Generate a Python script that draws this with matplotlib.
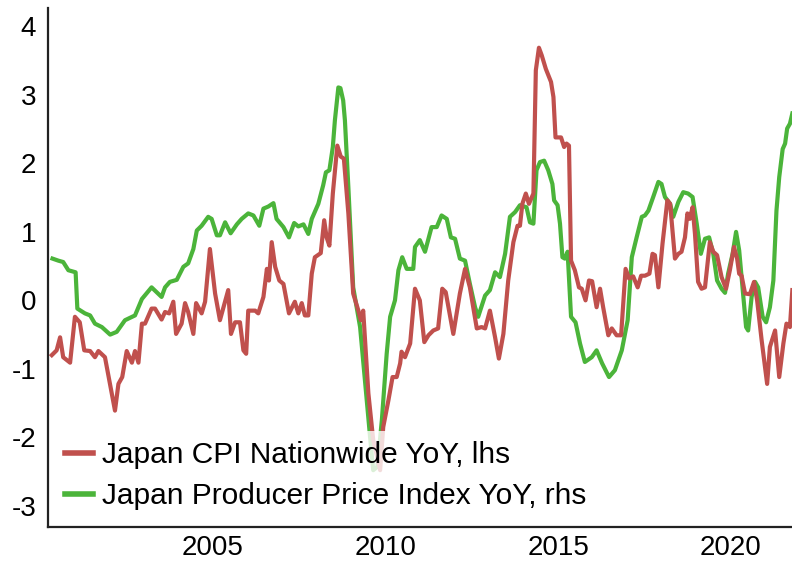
import matplotlib
matplotlib.use("Agg")
import matplotlib.pyplot as plt

plt.rcParams['font.family'] = ['Liberation Sans', 'DejaVu Sans']
plt.rcParams['axes.unicode_minus'] = False

# Japan CPI Nationwide YoY (lhs)
cpi_t = [2000.33, 2000.47, 2000.57, 2000.66, 2000.86, 2001.00, 2001.14, 2001.27, 2001.44, 2001.58,
         2001.68, 2001.87, 2002.16, 2002.26, 2002.37, 2002.50, 2002.65, 2002.74, 2002.84, 2002.94,
         2003.03, 2003.22, 2003.32, 2003.51, 2003.61, 2003.73, 2003.85, 2003.93, 2004.09, 2004.19,
         2004.28, 2004.43, 2004.51, 2004.67, 2004.77, 2004.91, 2005.06, 2005.20, 2005.44, 2005.52,
         2005.64, 2005.78, 2005.88, 2005.96, 2006.02, 2006.22, 2006.31, 2006.46, 2006.56, 2006.62,
         2006.70, 2006.80, 2006.92, 2007.04, 2007.20, 2007.37, 2007.47, 2007.57, 2007.66, 2007.76,
         2007.86, 2007.95, 2008.12, 2008.22, 2008.29, 2008.37, 2008.47, 2008.60, 2008.70, 2008.79,
         2008.92, 2009.06, 2009.21, 2009.28, 2009.35, 2009.50, 2009.64, 2009.84, 2009.93, 2010.08,
         2010.20, 2010.32, 2010.42, 2010.46, 2010.56, 2010.71, 2010.85, 2010.99, 2011.12, 2011.24,
         2011.38, 2011.52, 2011.64, 2011.74, 2011.96, 2012.15, 2012.30, 2012.44, 2012.64, 2012.78,
         2012.88, 2013.02, 2013.17, 2013.28, 2013.41, 2013.55, 2013.70, 2013.82, 2013.89, 2013.96,
         2014.06, 2014.15, 2014.28, 2014.35, 2014.44, 2014.52, 2014.64, 2014.79, 2014.86, 2014.92,
         2015.08, 2015.17, 2015.24, 2015.31, 2015.37, 2015.48, 2015.60, 2015.68, 2015.79, 2015.89,
         2015.98, 2016.11, 2016.21, 2016.30, 2016.45, 2016.55, 2016.69, 2016.82, 2016.95, 2017.05,
         2017.17, 2017.30, 2017.40, 2017.51, 2017.64, 2017.73, 2017.80, 2017.90, 2018.02, 2018.16,
         2018.24, 2018.38, 2018.48, 2018.57, 2018.67, 2018.74, 2018.81, 2018.89, 2018.96, 2019.05,
         2019.15, 2019.25, 2019.39, 2019.49, 2019.60, 2019.73, 2019.86, 2019.97, 2020.09, 2020.18,
         2020.24, 2020.31, 2020.41, 2020.55, 2020.67, 2020.76, 2020.89, 2021.05, 2021.13, 2021.28,
         2021.40, 2021.52, 2021.61, 2021.71, 2021.78]
cpi_v = [-0.80, -0.73, -0.54, -0.83, -0.91, -0.24, -0.32, -0.73, -0.74, -0.83,
         -0.74, -0.83, -1.61, -1.22, -1.12, -0.74, -0.91, -0.74, -0.91, -0.34,
         -0.34, -0.12, -0.12, -0.28, -0.17, -0.19, -0.02, -0.49, -0.34, -0.04,
         -0.17, -0.49, -0.04, -0.19, -0.02, 0.75, 0.10, -0.29, 0.15, -0.49,
         -0.32, -0.32, -0.73, -0.78, -0.15, -0.15, -0.19, 0.05, 0.46, 0.29,
         0.85, 0.49, 0.29, 0.24, -0.19, -0.02, -0.19, -0.04, -0.22, -0.22,
         0.39, 0.63, 0.69, 1.17, 0.92, 0.80, 1.56, 2.26, 2.10, 2.07,
         1.27, 0.10, -0.15, -0.29, -0.15, -1.36, -2.04, -2.48, -1.85, -1.46,
         -1.12, -1.12, -0.92, -0.75, -0.83, -0.63, 0.17, 0.00, -0.61, -0.51,
         -0.44, -0.41, 0.17, 0.12, -0.49, 0.10, 0.46, 0.19, -0.41, -0.39,
         -0.41, -0.15, -0.54, -0.85, -0.49, 0.29, 0.85, 1.09, 1.09, 1.41,
         1.56, 1.41, 1.56, 3.36, 3.69, 3.58, 3.38, 3.19, 2.97, 2.38,
         2.38, 2.24, 2.29, 2.26, 0.58, 0.44, 0.19, 0.17, 0.00, 0.29,
         0.28, -0.10, 0.17, -0.10, -0.51, -0.41, -0.51, -0.51, 0.46, 0.32,
         0.35, 0.19, 0.36, 0.36, 0.39, 0.68, 0.66, 0.19, 0.83, 1.46,
         1.41, 0.61, 0.68, 0.71, 0.92, 1.27, 1.19, 1.36, 0.97, 0.27,
         0.17, 0.19, 0.85, 0.71, 0.66, 0.34, 0.17, 0.44, 0.78, 0.61,
         0.39, 0.36, 0.10, 0.09, 0.27, 0.00, -0.58, -1.22, -0.68, -0.44,
         -1.12, -0.63, -0.34, -0.39, 0.15]

# Japan Producer Price Index YoY (rhs, drawn on the shared scale)
ppi_t = [2000.35, 2000.52, 2000.66, 2000.81, 2001.02, 2001.07, 2001.29, 2001.44, 2001.58, 2001.78,
         2002.02, 2002.21, 2002.45, 2002.74, 2002.94, 2003.22, 2003.51, 2003.61, 2003.75, 2003.95,
         2004.14, 2004.28, 2004.43, 2004.53, 2004.67, 2004.86, 2004.96, 2005.11, 2005.20, 2005.35,
         2005.51, 2005.69, 2005.83, 2006.02, 2006.17, 2006.34, 2006.46, 2006.60, 2006.75, 2006.84,
         2007.04, 2007.20, 2007.35, 2007.47, 2007.62, 2007.76, 2007.86, 2008.05, 2008.19, 2008.27,
         2008.37, 2008.47, 2008.53, 2008.63, 2008.69, 2008.77, 2008.82, 2008.92, 2009.06, 2009.26,
         2009.40, 2009.55, 2009.64, 2009.76, 2009.89, 2010.03, 2010.13, 2010.27, 2010.37, 2010.48,
         2010.61, 2010.80, 2010.85, 2010.99, 2011.14, 2011.33, 2011.48, 2011.62, 2011.77, 2011.89,
         2012.01, 2012.15, 2012.30, 2012.44, 2012.59, 2012.68, 2012.88, 2013.02, 2013.17, 2013.31,
         2013.46, 2013.60, 2013.75, 2013.89, 2014.08, 2014.18, 2014.28, 2014.37, 2014.47, 2014.59,
         2014.71, 2014.83, 2014.88, 2014.98, 2015.05, 2015.12, 2015.19, 2015.27, 2015.37, 2015.50,
         2015.63, 2015.77, 2015.97, 2016.11, 2016.27, 2016.47, 2016.64, 2016.84, 2017.01, 2017.13,
         2017.27, 2017.42, 2017.51, 2017.61, 2017.75, 2017.90, 2017.99, 2018.09, 2018.24, 2018.33,
         2018.48, 2018.62, 2018.76, 2018.89, 2019.01, 2019.13, 2019.25, 2019.37, 2019.49, 2019.60,
         2019.73, 2019.83, 2019.92, 2020.05, 2020.15, 2020.24, 2020.36, 2020.44, 2020.50, 2020.60,
         2020.70, 2020.79, 2020.92, 2021.02, 2021.13, 2021.23, 2021.32, 2021.40, 2021.50, 2021.57,
         2021.63, 2021.71, 2021.78]
ppi_v = [0.61, 0.58, 0.56, 0.44, 0.41, -0.12, -0.19, -0.22, -0.34, -0.39,
         -0.50, -0.46, -0.29, -0.22, 0.02, 0.19, 0.05, 0.19, 0.27, 0.30,
         0.49, 0.54, 0.75, 1.02, 1.09, 1.22, 1.19, 0.95, 0.95, 1.14,
         0.98, 1.11, 1.19, 1.27, 1.24, 1.09, 1.34, 1.37, 1.42, 1.19,
         1.07, 0.92, 1.13, 1.08, 1.11, 0.97, 1.19, 1.41, 1.68, 1.87,
         1.90, 2.24, 2.63, 3.11, 3.10, 2.92, 2.63, 1.65, 0.19, -0.39,
         -1.17, -2.00, -2.48, -2.43, -1.75, -0.78, -0.24, 0.00, 0.44, 0.63,
         0.46, 0.46, 0.78, 0.88, 0.71, 1.07, 1.07, 1.24, 1.19, 0.92,
         0.90, 0.61, 0.58, 0.24, -0.10, -0.24, 0.07, 0.15, 0.41, 0.34,
         0.68, 1.22, 1.29, 1.39, 1.36, 1.14, 1.12, 1.90, 2.02, 2.04,
         1.90, 1.70, 1.46, 1.39, 1.12, 0.63, 0.61, 0.71, -0.24, -0.32,
         -0.63, -0.90, -0.83, -0.73, -0.92, -1.12, -1.02, -0.73, -0.29, 0.63,
         0.92, 1.22, 1.24, 1.31, 1.51, 1.73, 1.70, 1.51, 1.41, 1.22,
         1.44, 1.58, 1.56, 1.51, 1.12, 0.68, 0.90, 0.92, 0.68, 0.29,
         0.17, 0.11, 0.39, 0.68, 1.00, 0.73, 0.05, -0.39, -0.44, 0.05,
         0.27, 0.19, -0.24, -0.32, -0.10, 0.29, 1.31, 1.80, 2.21, 2.29,
         2.51, 2.58, 2.73]

series_labels = ["Japan CPI Nationwide YoY, lhs", "Japan Producer Price Index YoY, rhs"]
y_ticks = [-3, -2, -1, 0, 1, 2, 3, 4]
x_ticks = [2005, 2010, 2015, 2020]

RED = '#C0504D'
GREEN = '#4BB43A'

fig = plt.figure(figsize=(7.92, 5.61), dpi=100)
ax = fig.add_axes([48 / 792, 34 / 561, 744 / 792, 519 / 561])

l_ppi, = ax.plot(ppi_t, ppi_v, color=GREEN, lw=3.0, solid_joinstyle='round', label=series_labels[1])
l_cpi, = ax.plot(cpi_t, cpi_v, color=RED, lw=3.0, solid_joinstyle='round', label=series_labels[0])

ax.set_xlim(2000.22, 2021.77)
ax.set_ylim(-3.31, 4.27)
ax.set_yticks(y_ticks)
ax.set_yticklabels([str(v) for v in y_ticks])
ax.set_xticks(x_ticks)
ax.set_xticklabels([str(v) for v in x_ticks])

for s in ['top', 'right']:
    ax.spines[s].set_visible(False)
for s in ['left', 'bottom']:
    ax.spines[s].set_linewidth(1.6)
    ax.spines[s].set_color('#222222')

ax.tick_params(axis='both', length=0, labelsize=20, colors='black')
ax.tick_params(axis='y', pad=8.5)
ax.tick_params(axis='x', pad=5.5)

leg = ax.legend(handles=[l_cpi, l_ppi], loc='lower left', bbox_to_anchor=(0, 0),
                fontsize=21.5, frameon=True, framealpha=0.8, facecolor='white',
                edgecolor='none', borderaxespad=0.22, borderpad=0.35,
                handlelength=0.95, handletextpad=0.28, labelspacing=0.42)
for h in leg.legend_handles:
    h.set_linewidth(4.0)

fig.savefig('out.png', dpi=100)
